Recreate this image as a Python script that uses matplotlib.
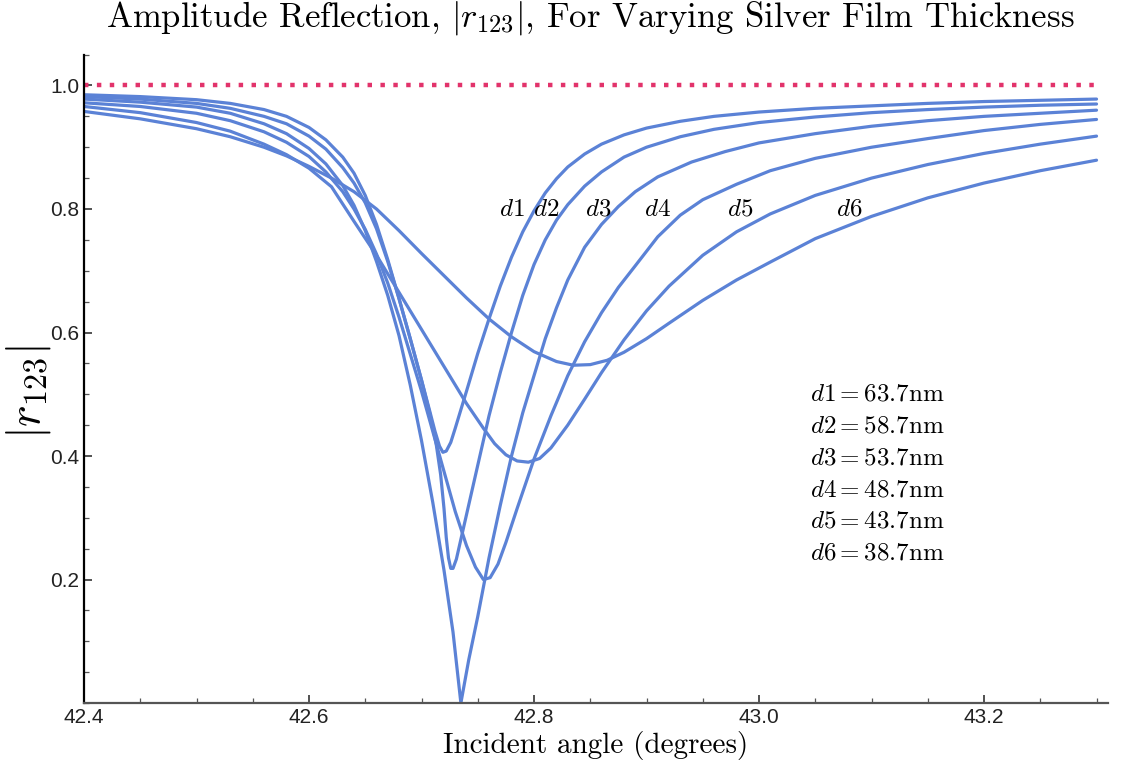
import matplotlib
matplotlib.use("Agg")
import matplotlib.pyplot as plt
from matplotlib.ticker import MultipleLocator

# |r123| curves, one per silver thickness
d1_x = [42.40, 42.45, 42.50, 42.53, 42.56, 42.58, 42.60, 42.615, 42.63, 42.64, 42.65, 42.66, 42.67,
        42.68, 42.69, 42.70, 42.707, 42.712, 42.716, 42.719, 42.722, 42.726, 42.73, 42.74, 42.75,
        42.76, 42.77, 42.78, 42.79, 42.80, 42.81, 42.82, 42.83, 42.845, 42.86, 42.88, 42.90, 42.93,
        42.96, 43.00, 43.05, 43.10, 43.15, 43.20, 43.25, 43.30]
d1_y = [0.985, 0.982, 0.977, 0.971, 0.961, 0.950, 0.932, 0.912, 0.884, 0.858, 0.822, 0.775, 0.718,
        0.655, 0.590, 0.523, 0.475, 0.440, 0.416, 0.406, 0.408, 0.422, 0.445, 0.505, 0.566,
        0.622, 0.675, 0.722, 0.763, 0.797, 0.826, 0.849, 0.868, 0.889, 0.905, 0.920, 0.931, 0.942,
        0.950, 0.957, 0.963, 0.967, 0.971, 0.974, 0.976, 0.978]

d2_x = [42.40, 42.45, 42.50, 42.53, 42.56, 42.58, 42.60, 42.615, 42.63, 42.64, 42.65, 42.66, 42.67,
        42.68, 42.69, 42.70, 42.707, 42.713, 42.717, 42.72, 42.722, 42.724, 42.726, 42.728, 42.731,
        42.735, 42.74, 42.75, 42.76, 42.77, 42.78, 42.79, 42.80, 42.81, 42.82, 42.83, 42.845, 42.86,
        42.88, 42.90, 42.93, 42.96, 43.00, 43.05, 43.10, 43.15, 43.20, 43.25, 43.30]
d2_y = [0.982, 0.978, 0.971, 0.963, 0.950, 0.938, 0.918, 0.897, 0.867, 0.842, 0.810, 0.768, 0.715,
        0.655, 0.590, 0.523, 0.472, 0.420, 0.370, 0.315, 0.268, 0.235, 0.218, 0.218, 0.233,
        0.265, 0.305, 0.385, 0.465, 0.535, 0.600, 0.660, 0.710, 0.750, 0.782, 0.807, 0.837, 0.860,
        0.884, 0.900, 0.917, 0.929, 0.940, 0.949, 0.956, 0.961, 0.965, 0.968, 0.970]

d3_x = [42.40, 42.45, 42.50, 42.53, 42.56, 42.58, 42.60, 42.615, 42.63, 42.64, 42.65, 42.66, 42.67,
        42.68, 42.69, 42.70, 42.71, 42.72, 42.728, 42.735, 42.742, 42.75, 42.76, 42.77, 42.78,
        42.79, 42.80, 42.81, 42.82, 42.83, 42.845, 42.86, 42.875, 42.89, 42.91, 42.94, 42.97, 43.00,
        43.05, 43.10, 43.15, 43.20, 43.25, 43.30]
d3_y = [0.978, 0.973, 0.965, 0.955, 0.938, 0.922, 0.898, 0.873, 0.838, 0.806, 0.765, 0.715, 0.660,
        0.595, 0.515, 0.425, 0.325, 0.215, 0.115, 0.0, 0.07, 0.14, 0.235, 0.32, 0.40,
        0.47, 0.53, 0.59, 0.64, 0.685, 0.738, 0.775, 0.804, 0.828, 0.852, 0.876, 0.893, 0.907,
        0.922, 0.934, 0.943, 0.950, 0.955, 0.960]

d4_x = [42.40, 42.45, 42.50, 42.53, 42.56, 42.58, 42.60, 42.615, 42.63, 42.64, 42.65, 42.66, 42.67,
        42.68, 42.69, 42.70, 42.71, 42.72, 42.73, 42.74, 42.748, 42.755, 42.761, 42.768, 42.775,
        42.785, 42.80, 42.815, 42.83, 42.845, 42.86, 42.875, 42.89, 42.91, 42.93, 42.95, 42.98,
        43.01, 43.05, 43.10, 43.15, 43.20, 43.25, 43.30]
d4_y = [0.972, 0.966, 0.955, 0.943, 0.925, 0.908, 0.885, 0.860, 0.828, 0.800, 0.767, 0.727, 0.680,
        0.625, 0.565, 0.505, 0.440, 0.375, 0.310, 0.255, 0.220, 0.200, 0.203, 0.225, 0.26,
        0.315, 0.395, 0.465, 0.53, 0.585, 0.632, 0.673, 0.708, 0.755, 0.790, 0.815, 0.840,
        0.862, 0.882, 0.900, 0.914, 0.927, 0.937, 0.945]

d5_x = [42.40, 42.45, 42.50, 42.53, 42.56, 42.58, 42.60, 42.62, 42.64, 42.66, 42.68, 42.70, 42.72,
        42.74, 42.755, 42.765, 42.775, 42.785, 42.795, 42.805, 42.815, 42.83, 42.845, 42.86, 42.88,
        42.90, 42.92, 42.95, 42.98, 43.01, 43.05, 43.10, 43.15, 43.20, 43.25, 43.30]
d5_y = [0.966, 0.956, 0.940, 0.926, 0.905, 0.888, 0.866, 0.836, 0.780, 0.725, 0.665, 0.605, 0.545,
        0.485, 0.445, 0.420, 0.402, 0.392, 0.390, 0.396, 0.413, 0.450, 0.492, 0.535, 0.588,
        0.635, 0.675, 0.725, 0.763, 0.792, 0.822, 0.850, 0.872, 0.890, 0.905, 0.918]

d6_x = [42.40, 42.45, 42.50, 42.53, 42.56, 42.58, 42.60, 42.62, 42.64, 42.66, 42.68, 42.70, 42.72,
        42.74, 42.76, 42.78, 42.80, 42.82, 42.835, 42.85, 42.865, 42.88, 42.90, 42.92, 42.95, 42.98,
        43.01, 43.05, 43.10, 43.15, 43.20, 43.25, 43.30]
d6_y = [0.958, 0.946, 0.930, 0.917, 0.900, 0.886, 0.869, 0.850, 0.828, 0.800, 0.765, 0.728, 0.692,
        0.656, 0.622, 0.593, 0.569, 0.553, 0.547, 0.548, 0.555, 0.568, 0.590, 0.615, 0.652, 0.685,
        0.714, 0.752, 0.788, 0.818, 0.842, 0.862, 0.879]

names = ["d1", "d2", "d3", "d4", "d5", "d6"]
thickness_nm = [63.7, 58.7, 53.7, 48.7, 43.7, 38.7]
ref_level = 1.0

xticks = [42.4, 42.6, 42.8, 43.0, 43.2]
yticks = [0.2, 0.4, 0.6, 0.8, 1.0]

# where the curve names sit (at |r| = 0.8) and where the legend block starts
name_x = [42.780, 42.811, 42.857, 42.910, 42.983, 43.080]
name_y = 0.8
legend_x = 43.045
legend_y = [0.502, 0.450, 0.398, 0.346, 0.295, 0.243]

blue = "#5b82d6"
red = "#e2336b"

plt.rcParams['mathtext.fontset'] = 'cm'

fig = plt.figure(figsize=(11.26, 7.68), dpi=100)
ax = fig.add_axes([0.0746, 0.0846, 0.9092, 0.8443])

curves = [(d1_x, d1_y), (d2_x, d2_y), (d3_x, d3_y), (d4_x, d4_y), (d5_x, d5_y), (d6_x, d6_y)]
for cx, cy in curves:
    ax.plot(cx, cy, color=blue, lw=2.3, solid_joinstyle="round", solid_capstyle="round")

ax.hlines(ref_level, xticks[0], 43.3, colors=red, lw=3.2, linestyles=(0, (1, 1.9)))

for nm, x in zip(names, name_x):
    ax.text(x, name_y, "$" + nm + "$", ha="center", va="center", fontsize=18)

for nm, d, y in zip(names, thickness_nm, legend_y):
    ax.text(legend_x, y, r"$%s = %.1f\mathrm{nm}$" % (nm, d), ha="left", va="center", fontsize=18)

ax.set_xlim(42.4, 43.31)
ax.set_ylim(0, 1.05)
ax.set_xticks(xticks)
ax.set_xticklabels(["%.1f" % t for t in xticks])
ax.set_yticks(yticks)
ax.set_yticklabels(["%.1f" % t for t in yticks])
ax.xaxis.set_minor_locator(MultipleLocator(0.05))
ax.yaxis.set_minor_locator(MultipleLocator(0.05))
ax.tick_params(which="major", direction="in", length=6, width=1.2, labelsize=15,
               labelcolor="#222222", colors="#333333")
ax.tick_params(which="minor", direction="in", length=3.5, width=0.9, colors="#555555")
for lab in ax.get_xticklabels() + ax.get_yticklabels():
    lab.set_fontfamily("Liberation Sans")

ax.spines["top"].set_visible(False)
ax.spines["right"].set_visible(False)
ax.spines["left"].set_linewidth(1.6)
ax.spines["left"].set_color("black")
ax.spines["bottom"].set_linewidth(1.6)
ax.spines["bottom"].set_color("#555555")

fig.text(0.524, 0.976, r"Amplitude Reflection, $|r_{123}|$, For Varying Silver Film Thickness",
         fontfamily="cmr10", fontsize=25, ha="center", va="center")
ax.set_xlabel("Incident angle (degrees)", fontfamily="cmr10", fontsize=21, labelpad=3)
fig.text(0.025, 0.49, r"$|r_{123}|$", fontsize=33, rotation=90, ha="center", va="center")

fig.savefig("out.png", dpi=100)
